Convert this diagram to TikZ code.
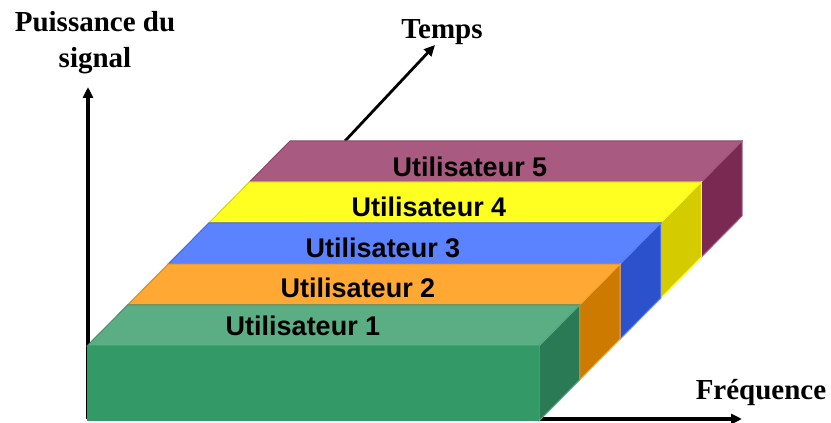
\documentclass[tikz,border=0pt]{standalone}
\usepackage{fontspec}
\setmainfont{Liberation Serif}
\setsansfont{Liberation Sans}
\usetikzlibrary{arrows.meta}
\definecolor{gTop}{HTML}{5BAE84}
\definecolor{gFront}{HTML}{339966}
\definecolor{gSide}{HTML}{2A7A55}
\definecolor{oTop}{HTML}{FFA833}
\definecolor{oFront}{HTML}{F29A1F}
\definecolor{oSide}{HTML}{CC7A00}
\definecolor{bTop}{HTML}{5B82FF}
\definecolor{bFront}{HTML}{4A70F0}
\definecolor{bSide}{HTML}{2B52CC}
\definecolor{yTop}{HTML}{FFFF22}
\definecolor{yFront}{HTML}{EEEE10}
\definecolor{ySide}{HTML}{D4CC00}
\definecolor{pTop}{HTML}{A85A80}
\definecolor{pFront}{HTML}{963F6A}
\definecolor{pSide}{HTML}{7A2A52}
\begin{document}
\begin{tikzpicture}[x=1pt,y=1pt,
  axis/.style={line width=3.5pt,-{Triangle[length=11pt,width=10pt]}},
  timearrow/.style={line width=2.8pt,-{Triangle[length=11pt,width=10pt]}},
  axislabel/.style={font=\fontsize{29}{36}\selectfont\bfseries,align=center,inner sep=0pt},
  userlabel/.style={font=\fontsize{27}{30}\selectfont\sffamily\bfseries,inner sep=0pt}]
\useasboundingbox (0,0) rectangle (831,423);
% axes
\coordinate (O) at (88,4);
\coordinate (ytip) at (88,336);
\coordinate (xtip) at (742,4);
\draw[axis] (O) -- (ytip);
\draw[axis] (O) -- (xtip);
\node[axislabel] (puiss) at (95,380) {Puissance du\\signal};
\node[axislabel] (freq) at (761,30) {Fréquence};
\node[axislabel] (temps) at (442,391) {Temps};
\coordinate (tstart) at (345,282);
\coordinate (tend) at (435,378);
\draw[timearrow] (tstart) -- (tend);
% boxes, back to front
\foreach \k/\tc/\fc/\sc in {4/pTop/pFront/pSide,3/yTop/yFront/ySide,2/bTop/bFront/bSide,1/oTop/oFront/oSide,0/gTop/gFront/gSide}{
  \begin{scope}[shift={({40.6*\k},{41*\k})}]
    \filldraw[fill=\tc,draw=\tc!82!black,line width=1pt] (87,77) -- ++(40.6,41) -- ++(452,0) -- (539,77) -- cycle;
    \filldraw[fill=\sc,draw=\tc,line width=1pt] (539,77) -- ++(40.6,41) -- ++(0,-75) -- (539,2) -- cycle;
    \fill[\fc] (87,2) rectangle (539,77);
  \end{scope}
}
\node[userlabel] (u1) at (303,97) {Utilisateur 1};
\node[userlabel] (u2) at (358,135) {Utilisateur 2};
\node[userlabel] (u3) at (383,175) {Utilisateur 3};
\node[userlabel] (u4) at (429,216) {Utilisateur 4};
\node[userlabel] (u5) at (470,256) {Utilisateur 5};
\end{tikzpicture}
\end{document}
